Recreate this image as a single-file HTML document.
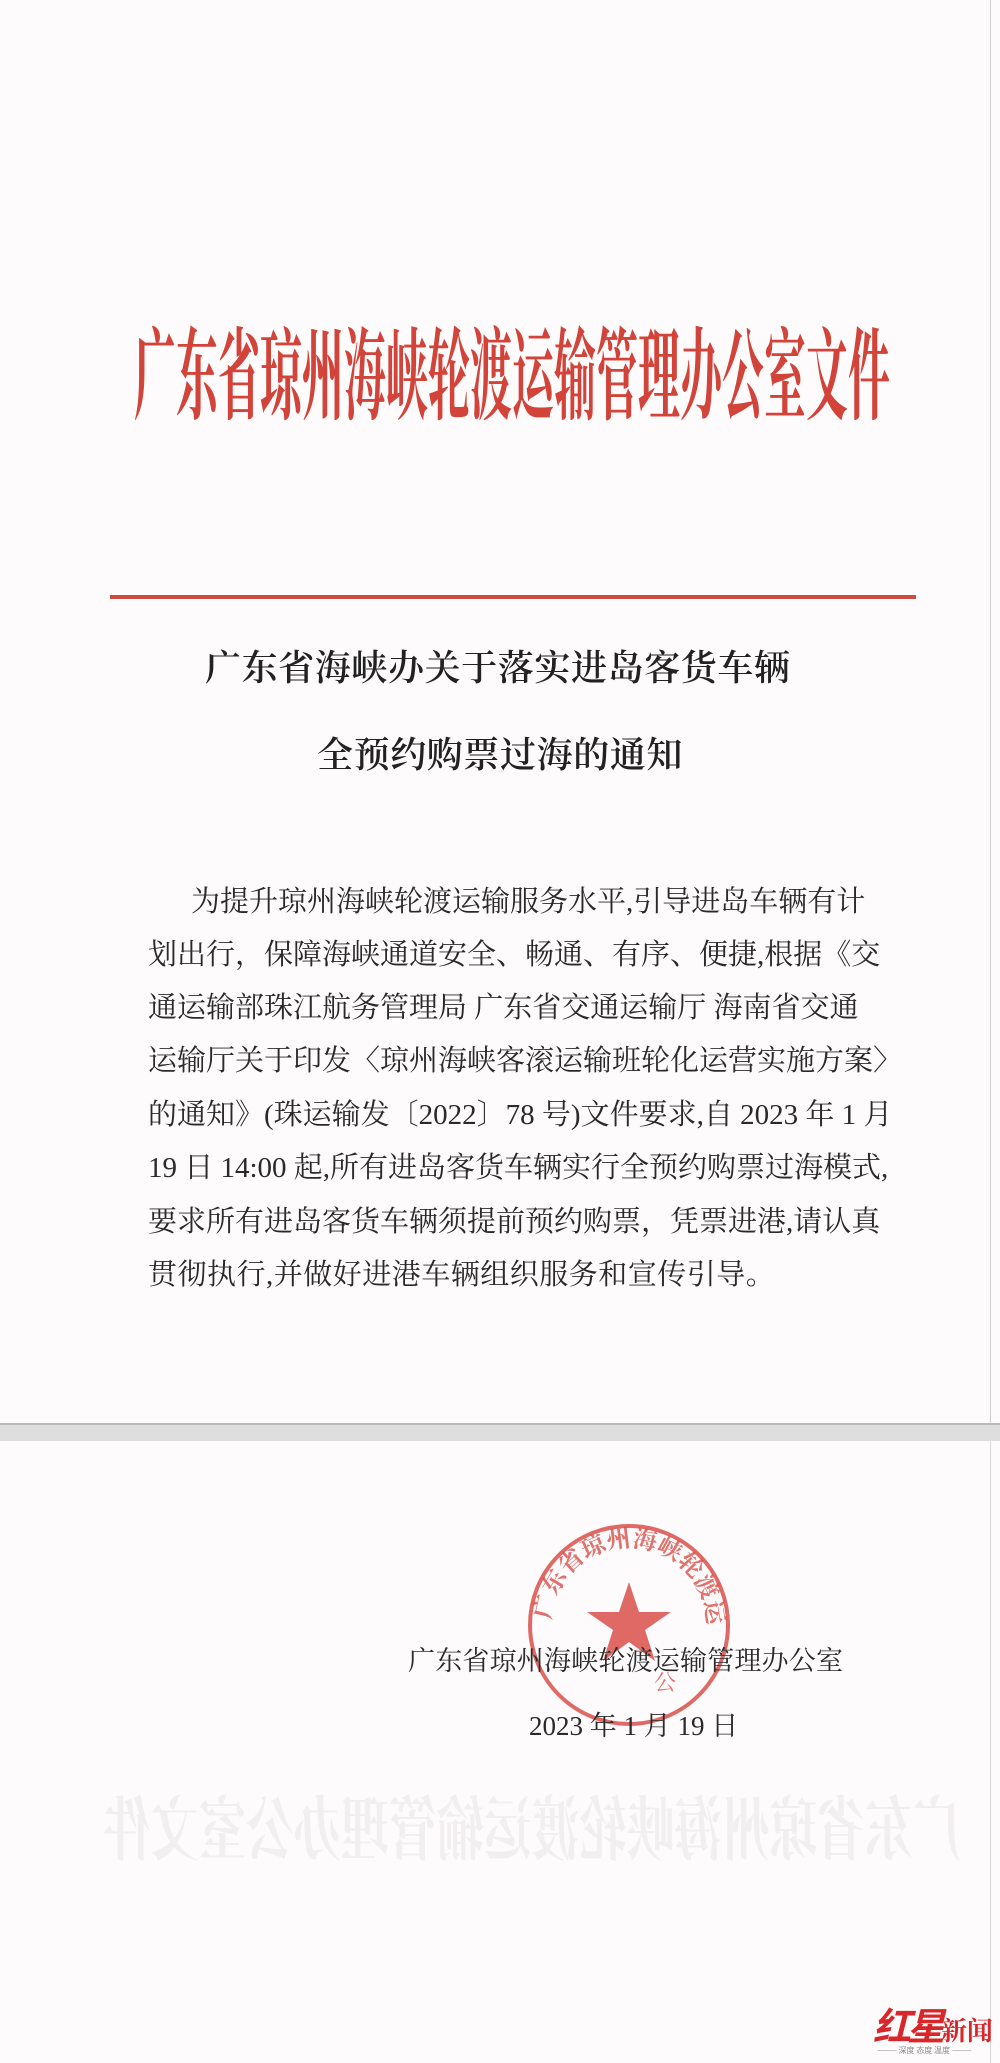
<!DOCTYPE html>
<html><head><meta charset="utf-8">
<style>
html,body{margin:0;padding:0;}
body{width:1000px;height:2063px;position:relative;overflow:hidden;background:#fdfbfc;font-family:"Liberation Serif","Noto Serif CJK SC",serif;}
.abs{position:absolute;}
.title{left:134px;top:318px;font-size:100px;line-height:120px;color:#d2443a;font-weight:700;white-space:nowrap;transform:scaleX(0.42);transform-origin:0 0;font-family:"Liberation Serif","Noto Serif CJK SC",serif;}
.sub{font-size:36px;line-height:44px;color:#222;white-space:nowrap;font-weight:600;}
.line{position:absolute;font-size:29px;line-height:36px;color:#2a2a2a;white-space:nowrap;text-align:justify;text-align-last:justify;}
</style></head><body>
<div class="abs" style="left:0;top:0;width:990px;height:1423px;border-right:1px solid #cfcfcf;"></div>
<div class="abs title">广东省琼州海峡轮渡运输管理办公室文件</div>
<div class="abs" style="left:110px;top:595px;width:806px;height:4px;background:#cf4a40;"></div>
<div class="abs sub" style="left:205px;top:646px;letter-spacing:0.6px;">广东省海峡办关于落实进岛客货车辆</div>
<div class="abs sub" style="left:317px;top:733px;letter-spacing:0.6px;">全预约购票过海的通知</div>

<div>
<div class="line" style="left:191px;top:884px;width:648px;">为提升琼州海峡轮渡运输服务水平,引导进岛车辆有计</div>
<div class="line" style="left:148px;top:937px;width:691px;">划出行，保障海峡通道安全、畅通、有序、便捷,根据《交</div>
<div class="line" style="left:148px;top:990px;width:681px;">通运输部珠江航务管理局 广东省交通运输厅 海南省交通</div>
<div class="line" style="left:148px;top:1043px;width:691px;">运输厅关于印发〈琼州海峡客滚运输班轮化运营实施方案〉</div>
<div class="line" style="left:148px;top:1097px;width:700px;">的通知》(珠运输发〔2022〕78 号)文件要求,自 2023 年 1 月</div>
<div class="line" style="left:148px;top:1150px;width:700px;">19 日 14:00 起,所有进岛客货车辆实行全预约购票过海模式,</div>
<div class="line" style="left:148px;top:1204px;width:687px;">要求所有进岛客货车辆须提前预约购票，凭票进港,请认真</div>
<div class="line" style="left:148px;top:1257px;text-align-last:left;letter-spacing:0.5px;">贯彻执行,并做好进港车辆组织服务和宣传引导。</div>
</div>

<div class="abs" style="left:0;top:1423px;width:1000px;height:16px;background:#dedede;border-top:2px solid #b9b9b9;"></div>
<div class="abs" style="left:0;top:1441px;width:990px;height:622px;border-right:1px solid #d8d8d8;"></div>

<div class="abs" style="left:960px;top:1790px;font-size:70px;line-height:84px;color:#f2eff1;font-weight:700;white-space:nowrap;transform:scale(-0.68,1);transform-origin:0 0;">广东省琼州海峡轮渡运输管理办公室文件</div>

<svg class="abs" style="left:524px;top:1520px;" width="210" height="210" viewBox="0 0 210 210">
<defs><path id="ring" d="M 105 105 m -78 0 a 78 78 0 1 1 156 0"/></defs>
<circle cx="105" cy="105" r="99" fill="none" stroke="#d9504a" stroke-width="4" opacity="0.85"/>
<text font-size="24" fill="#d9504a" opacity="0.8" font-family="Noto Serif CJK SC, serif" font-weight="700"><textPath href="#ring" startOffset="2%">广东省琼州海峡轮渡运输管理办</textPath></text>
<polygon points="105,62 115,92 147,92 121,110 131,141 105,122 79,141 89,110 63,92 95,92" fill="#d9504a" opacity="0.85"/>
<text x="130" y="170" font-size="22" fill="#d9504a" opacity="0.8" font-family="Noto Serif CJK SC, serif">公</text>
</svg>

<div class="abs" style="left:408px;top:1645px;font-size:27px;line-height:32px;color:#2a2a2a;letter-spacing:0.2px;white-space:nowrap;">广东省琼州海峡轮渡运输管理办公室</div>
<div class="abs" style="left:529px;top:1710px;font-size:27px;line-height:32px;color:#2a2a2a;white-space:nowrap;">2023 年 1 月 19 日</div>

<div class="abs" style="left:873px;top:1996px;white-space:nowrap;">
<span style="font-size:38px;color:#d8262a;font-style:italic;font-weight:700;font-family:'Noto Sans CJK SC',sans-serif;letter-spacing:-4px;">红星</span><span style="font-size:26px;color:#d8262a;font-weight:700;font-family:'Noto Serif CJK SC',serif;">新闻</span>
</div>
<div class="abs" style="left:877px;top:2045px;font-size:8px;color:#888;white-space:nowrap;font-family:'Noto Sans CJK SC',sans-serif;">——— 深度 态度 温度 ———</div>
</body></html>
